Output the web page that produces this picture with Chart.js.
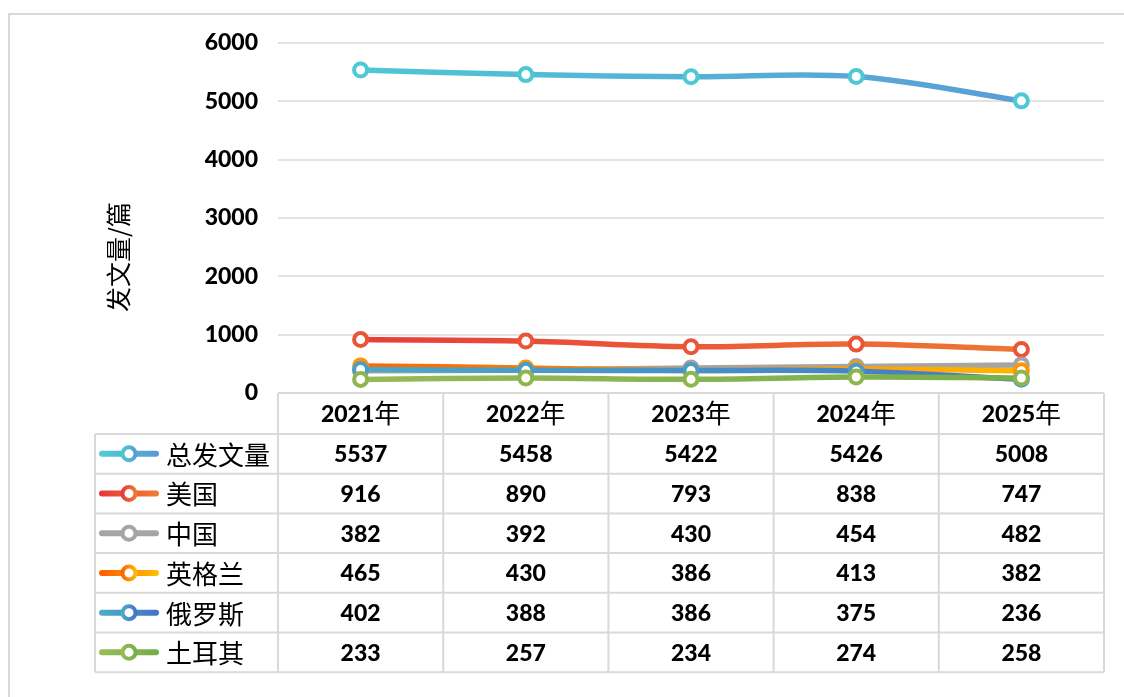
<!DOCTYPE html>
<html><head><meta charset="utf-8">
<script src="https://cdn.jsdelivr.net/npm/chart.js@4/dist/chart.umd.min.js"></script>
<style>html,body{margin:0;padding:0;background:#fff;}#wrap{width:1124px;height:697px;}</style>
</head><body><div id="wrap"><canvas id="c" width="1124" height="697"></canvas></div>
<script>
const years = ['2021年','2022年','2023年','2024年','2025年'];
const seriesNames = ['总发文量','美国','中国','英格兰','俄罗斯','土耳其'];
const total   = [5537,5458,5422,5426,5008];
const usa     = [916,890,793,838,747];
const china   = [382,392,430,454,482];
const england = [465,430,386,413,382];
const russia  = [402,388,386,375,236];
const turkey  = [233,257,234,274,258];
const yTicks = [0,1000,2000,3000,4000,5000,6000];
const yTitle = '发文量/篇';

const seriesData = [total,usa,china,england,russia,turkey];
const lineStops = [['#4ECBD6','#5B98D5'],['#E8363B','#EF7E31'],['#A5A5A5','#A5A5A5'],['#FF5C00','#FFC000'],['#4BAEC6','#4472C4'],['#9BBB59','#74AE48']];
const markerCol = ['#4FC8D6','#EA5537','#A5A5A5','#FF9500','#4A9DC8','#8DB64F'];

function makeGrad(ctx,x0,x1,stops){const g=ctx.createLinearGradient(x0,0,x1,0);g.addColorStop(0,stops[0]);g.addColorStop(1,stops[1]);return g;}

const FONT_NUM = 'Lato, "Noto Sans CJK SC", sans-serif';
const FONT_CJK = '"Noto Sans CJK SC", sans-serif';
const NUM_W = '900';

const datasets = seriesData.map((d,i)=>({
  label: seriesNames[i],
  data: d,
  order: 10 - i,
  borderColor: (c)=>{const a=c.chart.chartArea; if(!a) return lineStops[i][0]; return makeGrad(c.chart.ctx,a.left,a.right,lineStops[i]);},
  borderWidth: 5.5,
  tension: 0.35,
  pointRadius: 6.5,
  pointHoverRadius: 6.5,
  pointBorderWidth: 4,
  pointBackgroundColor: '#fff',
  pointBorderColor: markerCol[i],
  fill: false
}));

const framePlugin = {
  id:'frame',
  beforeDraw(chart){
    const ctx=chart.ctx; ctx.save();
    ctx.strokeStyle='#d9d9d9'; ctx.lineWidth=2;
    ctx.beginPath(); ctx.moveTo(9,700); ctx.lineTo(9,14); ctx.lineTo(1124,14); ctx.stroke();
    ctx.restore();
  }
};

const tablePlugin = {
  id:'table',
  afterDraw(chart){
    const ctx=chart.ctx, a=chart.chartArea, xs=chart.scales.x;
    const n=years.length;
    const w=(a.right-a.left)/n;
    const top=a.bottom, headH=41, rowH=39.7, leftX=95;
    const bottom=top+headH+rowH*seriesNames.length;
    ctx.save();
    ctx.strokeStyle='#d9d9d9'; ctx.lineWidth=2;
    ctx.beginPath();
    ctx.moveTo(a.left,top); ctx.lineTo(a.right,top);
    for(let r=0;r<=seriesNames.length;r++){const y=top+headH+rowH*r; ctx.moveTo(leftX,y); ctx.lineTo(a.right,y);}
    for(let k=0;k<=n;k++){const x=a.left+w*k; ctx.moveTo(x,top); ctx.lineTo(x,bottom);}
    ctx.moveTo(leftX,top+headH); ctx.lineTo(leftX,bottom);
    ctx.stroke();
    ctx.fillStyle='#000'; ctx.textBaseline='middle';
    years.forEach((yl,i)=>{
      const cx=xs.getPixelForValue(i);
      const num=yl.replace('年','');
      ctx.font=NUM_W+' 23px '+FONT_NUM; const w1=ctx.measureText(num).width;
      ctx.font='26px '+FONT_CJK; const w2=ctx.measureText('年').width;
      const sx=cx-(w1+w2)/2, cy=top+headH/2+1;
      ctx.textAlign='left';
      ctx.font=NUM_W+' 23px '+FONT_NUM; ctx.fillText(num,sx,cy);
      ctx.font='26px '+FONT_CJK; ctx.fillText('年',sx+w1,cy-1);
    });
    seriesNames.forEach((nm,r)=>{
      const cy=top+headH+rowH*r+rowH/2;
      ctx.lineCap='round'; ctx.lineWidth=6;
      ctx.strokeStyle=makeGrad(ctx,100,158,lineStops[r]);
      ctx.beginPath(); ctx.moveTo(102,cy); ctx.lineTo(156,cy); ctx.stroke();
      ctx.beginPath(); ctx.arc(129,cy,6.5,0,Math.PI*2); ctx.fillStyle='#fff'; ctx.fill();
      ctx.lineWidth=4; ctx.strokeStyle=makeGrad(ctx,121,137,lineStops[r]); ctx.stroke();
      ctx.fillStyle='#000'; ctx.textAlign='left';
      ctx.font='26px '+FONT_CJK; ctx.fillText(nm,166,cy+1);
      ctx.textAlign='center'; ctx.font=NUM_W+' 23px '+FONT_NUM;
      seriesData[r].forEach((v,i)=>{ctx.fillText(String(v),xs.getPixelForValue(i),cy+1);});
    });
    ctx.save(); ctx.translate(118,(a.top+a.bottom)/2+39); ctx.rotate(-Math.PI/2);
    ctx.textAlign='center'; ctx.font='25px '+FONT_CJK; ctx.fillStyle='#000';
    ctx.fillText(yTitle,0,0); ctx.restore();
    ctx.restore();
  }
};

new Chart(document.getElementById('c'),{
  type:'line',
  data:{labels:years,datasets},
  options:{
    responsive:false, animation:false,
    layout:{padding:{left:0,top:43,right:20,bottom:304}},
    plugins:{legend:{display:false},tooltip:{enabled:false}},
    scales:{
      x:{display:false,offset:true},
      y:{min:0,max:6000,
        afterFit:(s)=>{s.width=278;},
        afterBuildTicks:(s)=>{s.ticks=yTicks.map(v=>({value:v}));},
        border:{display:false},
        grid:{color:'#e2e2e2',lineWidth:2,drawTicks:false},
        ticks:{padding:20,color:'#000',callback:(v)=>String(v),font:{family:FONT_NUM,size:23,weight:NUM_W}}
      }
    }
  },
  plugins:[framePlugin,tablePlugin]
});
</script></body></html>
